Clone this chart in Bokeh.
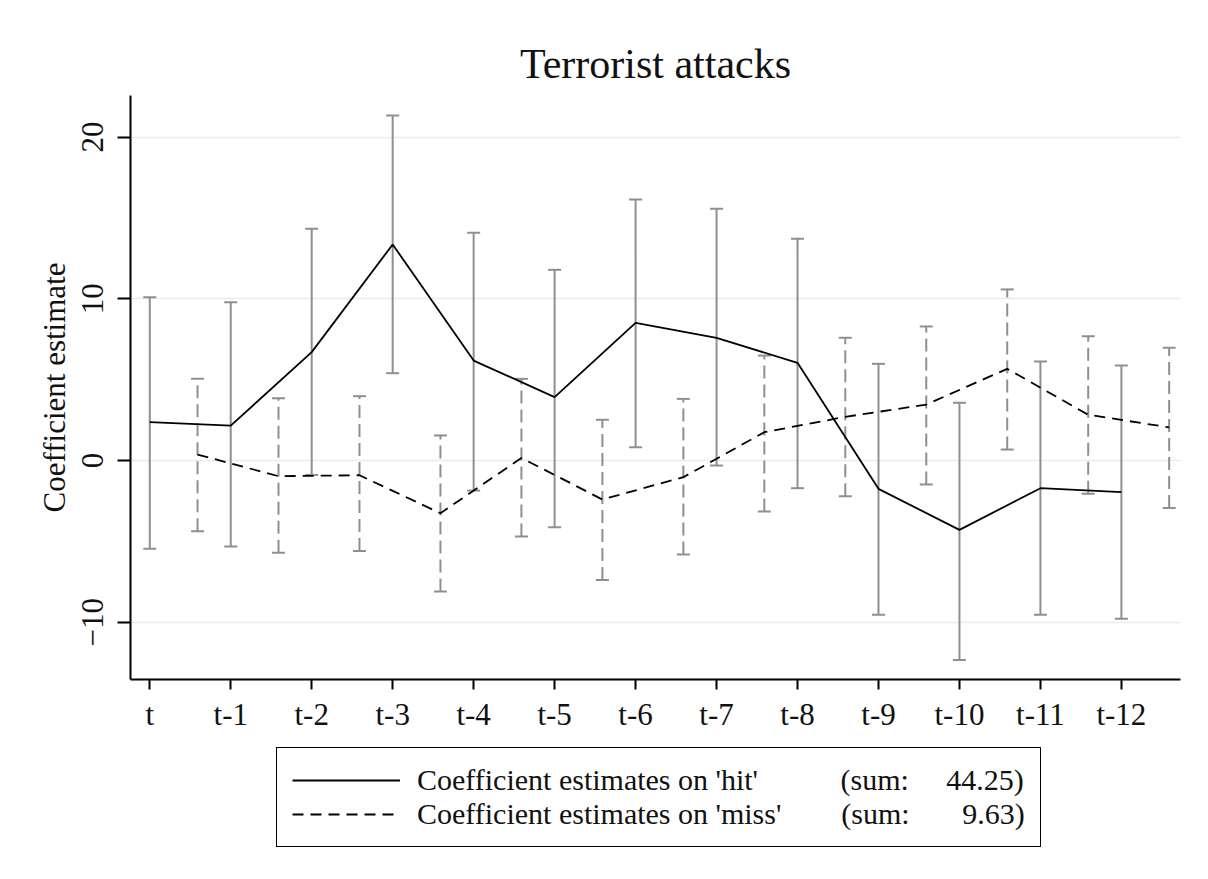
from bokeh.plotting import figure
from bokeh.models import (Range1d, FixedTicker, Whisker, TeeHead, ColumnDataSource,
                          Legend, LegendItem)
from bokeh.layouts import column
from bokeh.embed import file_html
from bokeh.resources import INLINE

# ---------------- data ----------------
periods = ["t", "t-1", "t-2", "t-3", "t-4", "t-5", "t-6", "t-7", "t-8", "t-9", "t-10", "t-11", "t-12"]

hit = [2.37, 2.16, 6.70, 13.36, 6.18, 3.92, 8.51, 7.59, 6.04, -1.75, -4.29, -1.71, -1.96]
hit_hi = [10.10, 9.79, 14.33, 21.34, 14.08, 11.79, 16.14, 15.56, 13.71, 5.98, 3.57, 6.12, 5.88]
hit_lo = [-5.46, -5.32, -0.89, 5.40, -1.86, -4.12, 0.82, -0.31, -1.71, -9.54, -12.33, -9.54, -9.79]

miss = [0.37, -0.97, -0.91, -3.26, 0.16, -2.41, -1.03, 1.75, 2.70, 3.46, 5.67, 2.83, 2.05]
miss_hi = [5.05, 3.85, 3.98, 1.55, 5.05, 2.52, 3.81, 6.49, 7.59, 8.29, 10.58, 7.69, 6.97]
miss_lo = [-4.37, -5.71, -5.59, -8.10, -4.70, -7.38, -5.81, -3.15, -2.21, -1.48, 0.68, -2.06, -2.93]

series_labels = ["Coefficient estimates on 'hit'", "Coefficient estimates on 'miss'"]
series_sums = ["44.25)", "9.63)"]
sum_prefix = "(sum:"
y_ticks = [-10, 0, 10, 20]
miss_offset = 0.59

# ---------------- styling ----------------
FONT = "Liberation Serif"
TXT = "#111111"
BAR = "#8f8f8f"
NB = "\u00a0"
HIT_STYLE = dict(line_color="black", line_width=1.8)
MISS_STYLE = dict(line_color="black", line_width=1.8, line_dash="11 7")

x_hit = list(range(len(periods)))
x_miss = [i + miss_offset for i in x_hit]

p = figure(width=1192, height=745, output_backend="svg", toolbar_location=None,
           x_range=Range1d(-0.238, 12.73), y_range=Range1d(-13.54, 22.57),
           min_border_left=130, min_border_right=12, min_border_top=95,
           min_border_bottom=66, title="Terrorist attacks")
p.outline_line_color = None
p.background_fill_color = "white"
p.border_fill_color = "white"

p.title.text_font = FONT
p.title.text_font_size = "42px"
p.title.text_font_style = "normal"
p.title.text_color = TXT
p.title.align = "center"
p.title.standoff = 18

# grid
p.xgrid.visible = False
p.ygrid.ticker = FixedTicker(ticks=y_ticks)
p.ygrid.grid_line_color = "#e4eef1"
p.ygrid.grid_line_width = 1.5

# axes
for ax in (p.xaxis[0], p.yaxis[0]):
    ax.axis_line_color = "black"
    ax.axis_line_width = 2
    ax.major_tick_line_color = "black"
    ax.major_tick_line_width = 2
    ax.major_tick_in = 0
    ax.minor_tick_line_color = None
    ax.major_label_text_font = FONT
    ax.major_label_text_font_size = "31px"
    ax.major_label_text_color = TXT
    ax.axis_label_text_font = FONT
    ax.axis_label_text_font_size = "31px"
    ax.axis_label_text_font_style = "normal"
    ax.axis_label_text_color = TXT

p.xaxis.ticker = FixedTicker(ticks=x_hit)
p.xaxis.major_label_overrides = {i: lab for i, lab in zip(x_hit, periods)}
p.xaxis.major_tick_out = 10
p.xaxis.major_label_standoff = 7

p.yaxis.ticker = FixedTicker(ticks=y_ticks)
p.yaxis.major_tick_out = 13
p.yaxis.major_label_orientation = "vertical"
p.yaxis.major_label_standoff = 14
p.yaxis.axis_label = "Coefficient estimate"
p.yaxis.axis_label_standoff = 8

# error bars
src_hit = ColumnDataSource(dict(x=x_hit, y=hit, hi=hit_hi, lo=hit_lo))
src_miss = ColumnDataSource(dict(x=x_miss, y=miss, hi=miss_hi, lo=miss_lo))

w_hit = Whisker(source=src_hit, base="x", upper="hi", lower="lo",
                line_color=BAR, line_width=2,
                upper_head=TeeHead(size=13, line_color=BAR, line_width=2),
                lower_head=TeeHead(size=13, line_color=BAR, line_width=2))
w_miss = Whisker(source=src_miss, base="x", upper="hi", lower="lo",
                 line_color=BAR, line_width=2, line_dash="13 6",
                 upper_head=TeeHead(size=13, line_color=BAR, line_width=2),
                 lower_head=TeeHead(size=13, line_color=BAR, line_width=2))
p.add_layout(w_hit)
p.add_layout(w_miss)

# lines
p.line("x", "y", source=src_hit, **HIT_STYLE)
p.line("x", "y", source=src_miss, **MISS_STYLE)

# ---------------- legend panel (second canvas below the plot) ----------------
# its ranges lie far from the data, so only the legend is visible there
lg = figure(width=1192, height=126, output_backend="svg", toolbar_location=None,
            x_range=Range1d(1000, 1001), y_range=Range1d(1000, 1001),
            x_axis_location=None, y_axis_location=None,
            min_border_left=0, min_border_right=0, min_border_top=0, min_border_bottom=0)
lg.outline_line_color = None
lg.grid.visible = False
lg.background_fill_color = "white"
lg.border_fill_color = "white"
k_hit = lg.line("x", "y", source=src_hit, **HIT_STYLE)
k_miss = lg.line("x", "y", source=src_miss, **MISS_STYLE)

gap1 = [11, 8]
gap2 = [5, 7]
labels = [lab + NB * g1 + sum_prefix + NB * g2 + s
          for lab, g1, g2, s in zip(series_labels, gap1, gap2, series_sums)]
legend = Legend(items=[LegendItem(label=labels[0], renderers=[k_hit]),
                       LegendItem(label=labels[1], renderers=[k_miss])],
                location=(146, 24), orientation="vertical",
                border_line_color="black", border_line_width=1.5,
                border_line_alpha=1.0,
                background_fill_color="white", background_fill_alpha=1,
                glyph_width=108, glyph_height=34, label_height=34,
                padding=15, spacing=0, label_standoff=17,
                margin=0, label_text_font=FONT, label_text_font_size="30px",
                label_text_color=TXT)
lg.add_layout(legend)

layout = column(p, lg, spacing=0)
open("out.html", "w").write(file_html(layout, INLINE))
